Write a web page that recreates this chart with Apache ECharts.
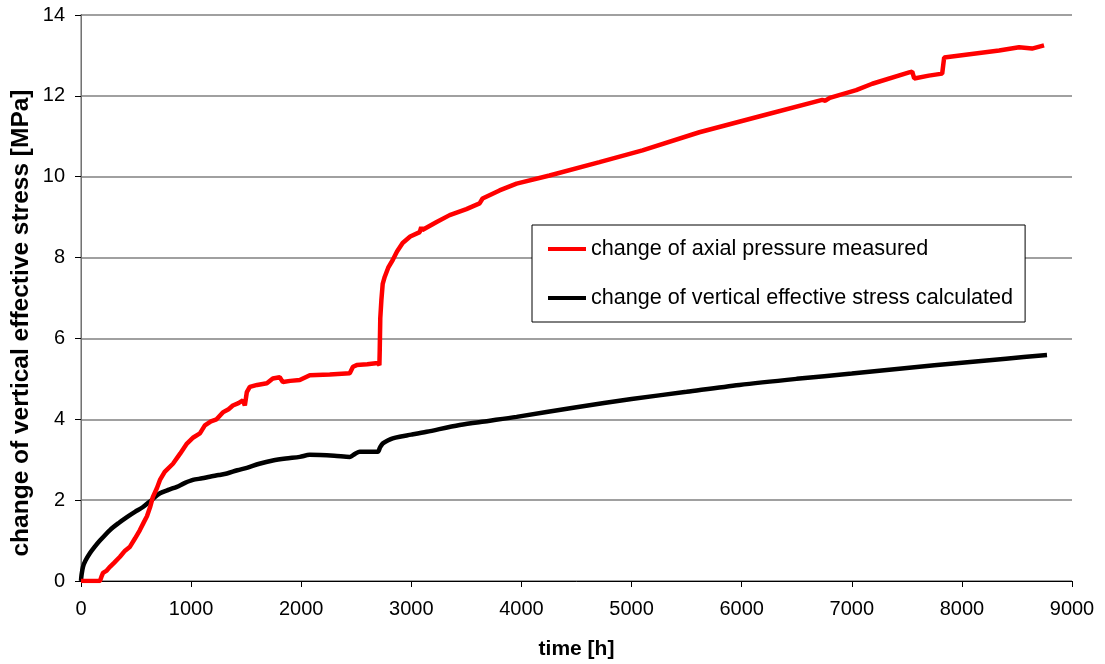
<!DOCTYPE html>
<html>
<head>
<meta charset="utf-8">
<script src="https://cdn.jsdelivr.net/npm/echarts@6/dist/echarts.min.js"></script>
<style>
  html, body { margin: 0; padding: 0; background: #fff; }
  #chart { width: 1105px; height: 664px; }
</style>
</head>
<body>
<div id="chart"></div>
<script>
// Time [h] and measured change of axial pressure [MPa]
const axialTime = [0, 100, 172, 185, 200, 230, 263, 300, 354, 400, 445, 490, 535, 570, 599, 630, 653, 690, 717, 760,
  835, 900, 962, 1020, 1080, 1125, 1180, 1231, 1288, 1340, 1379, 1430, 1470, 1488, 1506, 1533, 1600, 1688, 1742, 1805,
  1833, 1900, 1987, 2078, 2259, 2441, 2470, 2504, 2600, 2695, 2710, 2713, 2718, 2728, 2740, 2758, 2790, 2831, 2870, 2921,
  2990, 3076, 3090, 3100, 3230, 3348, 3500, 3620, 3647, 3801, 3956, 4255, 4709, 5099, 5616, 6200, 6732, 6760, 6800, 7040,
  7186, 7521, 7549, 7567, 7700, 7821, 7839, 8338, 8519, 8637, 8746];
const axialValue = [0, 0, 0, 0.1, 0.2, 0.25, 0.35, 0.45, 0.6, 0.75, 0.85, 1.05, 1.26, 1.45, 1.6, 1.85, 2.08, 2.3, 2.5, 2.7,
  2.9, 3.15, 3.4, 3.55, 3.65, 3.85, 3.95, 4.0, 4.17, 4.25, 4.34, 4.4, 4.47, 4.34, 4.67, 4.8, 4.85, 4.89, 5.01, 5.04,
  4.92, 4.95, 4.97, 5.09, 5.11, 5.14, 5.3, 5.34, 5.36, 5.39, 5.34, 5.7, 6.5, 6.95, 7.35, 7.52, 7.75, 7.94, 8.15, 8.36,
  8.52, 8.63, 8.75, 8.68, 8.88, 9.05, 9.2, 9.34, 9.46, 9.66, 9.83, 10.03, 10.36, 10.65, 11.1, 11.52, 11.9, 11.88, 11.95, 12.14,
  12.3, 12.58, 12.6, 12.43, 12.5, 12.55, 12.95, 13.12, 13.2, 13.17, 13.25];

// Time [h] and calculated change of vertical effective stress [MPa]
const stressTime = [0, 5, 18, 40, 82, 120, 172, 263, 340, 417, 490, 563, 640, 717, 800, 871, 940, 1016, 1100, 1170,
  1250, 1325, 1420, 1506, 1620, 1742, 1860, 1987, 2078, 2300, 2441, 2490, 2531, 2695, 2715, 2740, 2790, 2831, 2894, 3000,
  3139, 3439, 3700, 3956, 4500, 5000, 5500, 5979, 6500, 7000, 7500, 8000, 8400, 8773];
const stressValue = [0, 0.15, 0.35, 0.5, 0.69, 0.83, 1.0, 1.26, 1.43, 1.58, 1.71, 1.83, 2.0, 2.17, 2.26, 2.33, 2.42, 2.5, 2.54, 2.58,
  2.62, 2.66, 2.74, 2.8, 2.9, 2.98, 3.03, 3.07, 3.12, 3.1, 3.07, 3.15, 3.2, 3.2, 3.3, 3.4, 3.48, 3.53, 3.57, 3.62,
  3.69, 3.86, 3.96, 4.06, 4.3, 4.5, 4.68, 4.85, 5.0, 5.13, 5.27, 5.4, 5.5, 5.59];

const seriesNames = ['change of axial pressure measured', 'change of vertical effective stress calculated'];
const xTitle = 'time [h]';
const yTitle = 'change of vertical effective stress [MPa]';

const zip = (xs, ys) => xs.map((x, i) => [x, ys[i]]);
const font = '"Liberation Sans", Arial, sans-serif';

const chart = echarts.init(document.getElementById('chart'), null, { renderer: 'canvas' });
chart.setOption({
  animation: false,
  backgroundColor: '#fff',
  grid: { left: 81, top: 15, right: 33, bottom: 83, outerBoundsMode: 'none', containLabel: false },
  // vertical axis title, set a little below the plot's middle
  graphic: [{
    type: 'text',
    x: 21,
    y: 323,
    rotation: Math.PI / 2,
    style: {
      text: yTitle,
      fontFamily: font,
      fontSize: 24.5,
      fontWeight: 'bold',
      fill: '#000',
      align: 'center',
      verticalAlign: 'middle'
    }
  }],
  legend: {
    orient: 'vertical',
    left: 532,
    top: 225,
    padding: [13, 12, 13, 16],
    itemGap: 27,
    itemWidth: 38,
    itemHeight: 4,
    icon: 'rect',
    backgroundColor: '#fff',
    borderColor: '#000',
    borderWidth: 1,
    textStyle: { fontFamily: font, fontSize: 21.6, color: '#000', lineHeight: 20 },
    data: seriesNames
  },
  xAxis: {
    type: 'value',
    min: 0, max: 9000, interval: 1000,
    name: xTitle,
    nameLocation: 'middle',
    nameGap: 58,
    nameTextStyle: { fontFamily: font, fontSize: 21, fontWeight: 'bold', color: '#000' },
    axisLine: { show: true, onZero: false, lineStyle: { color: '#000', width: 1 } },
    axisTick: { show: true, inside: false, length: 6, lineStyle: { color: '#000' } },
    axisLabel: { fontFamily: font, fontSize: 20, color: '#000', margin: 18, formatter: v => String(v) },
    splitLine: { show: false }
  },
  yAxis: [{
    type: 'value',
    min: 0, max: 14, interval: 2,
    axisLine: { show: true, onZero: false, lineStyle: { color: '#000', width: 1 } },
    axisTick: { show: true, inside: false, length: 6, lineStyle: { color: '#000' } },
    axisLabel: { fontFamily: font, fontSize: 20, color: '#000', margin: 16 },
    splitLine: { show: true, lineStyle: { color: '#808080', width: 1.5 } }
  }, {
    // right-hand frame line of the plot area
    type: 'value',
    position: 'right',
    min: 0, max: 14, interval: 2,
    axisLine: { show: true, lineStyle: { color: '#9a9a9a', width: 1.5 } },
    axisTick: { show: false },
    axisLabel: { show: false },
    splitLine: { show: false }
  }],
  series: [{
    name: seriesNames[0],
    type: 'line',
    data: zip(axialTime, axialValue),
    showSymbol: false,
    symbol: 'none',
    lineStyle: { color: '#ff0000', width: 4.5 },
    itemStyle: { color: '#ff0000' },
    z: 3
  }, {
    name: seriesNames[1],
    type: 'line',
    data: zip(stressTime, stressValue),
    showSymbol: false,
    symbol: 'none',
    smooth: 0.3,
    lineStyle: { color: '#000000', width: 4.5 },
    itemStyle: { color: '#000000' },
    z: 2
  }]
});
</script>
</body>
</html>
